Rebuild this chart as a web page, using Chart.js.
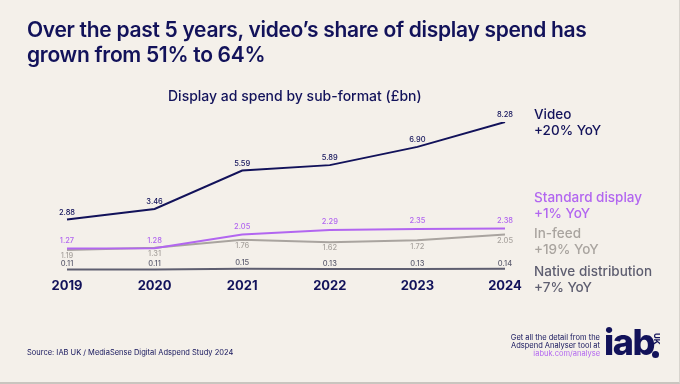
<!DOCTYPE html>
<html>
<head>
<meta charset="utf-8">
<script src="https://cdn.jsdelivr.net/npm/chart.js@4"></script>
<style>
  html, body { margin: 0; padding: 0; }
  body {
    width: 680px; height: 384px; overflow: hidden; position: relative;
    background: #f4f0ea; font-family: "Inter", "Lato", sans-serif; color: #12125a;
  }
  .frame { position: absolute; left: 0; top: 0; width: 679px; height: 382px;
    border-right: 1px solid #d8d4ce; border-bottom: 2px solid #c9c5bf; }
  #wrap { position: absolute; left: 0; top: 0; width: 680px; height: 384px; }
  .title { position: absolute; left: 27px; top: 17px; font-size: 21px; font-weight: 600;
    line-height: 25px; letter-spacing: -0.3px; }
  .sub { position: absolute; left: 168px; top: 87px; font-size: 14px; font-weight: 500; }
  .lab { position: absolute; left: 534px; font-size: 13.5px; font-weight: 500; line-height: 15.5px; }
  .src { position: absolute; left: 27px; top: 348px; font-size: 7.5px; }
  .cta { position: absolute; right: 80px; top: 334px; font-size: 7.5px; line-height: 8px; text-align: right; }
  .logo { position: absolute; left: 604px; top: 324px; font-size: 36px; font-weight: 800;
    letter-spacing: -1.5px; line-height: 36px; }
  .uk { position: absolute; left: 661px; top: 333px; font-size: 8px; font-weight: 800; line-height: 9px;
    transform: rotate(90deg); transform-origin: left top; }
  .dot { position: absolute; left: 652px; top: 351px; width: 7px; height: 7px; border-radius: 50%; background: #12125a; }
</style>
</head>
<body>
<div class="frame"></div>
<div id="wrap"><canvas id="chart" width="680" height="384"></canvas></div>
<div class="title">Over the past 5 years, video’s share of display spend has<br>grown from 51% to 64%</div>
<div class="sub">Display ad spend by sub-format (£bn)</div>
<div class="lab" style="top:107px;color:#12125a">Video<br>+20% YoY</div>
<div class="lab" style="top:190px;color:#b266f0">Standard display<br>+1% YoY</div>
<div class="lab" style="top:226px;color:#a9a49f">In-feed<br>+19% YoY</div>
<div class="lab" style="top:264px;color:#5e5e70">Native distribution<br>+7% YoY</div>
<div class="src">Source: IAB UK / MediaSense Digital Adspend Study 2024</div>
<div class="cta">Get all the detail from the<br>Adspend Analyser tool at<br><span style="color:#b266f0">iabuk.com/analyse</span></div>
<div class="logo">iab</div>
<div class="uk">UK</div>
<div class="dot"></div>
<script>
const years = ["2019", "2020", "2021", "2022", "2023", "2024"];
const video = [2.88, 3.46, 5.59, 5.89, 6.90, 8.28];
const standardDisplay = [1.27, 1.28, 2.05, 2.29, 2.35, 2.38];
const inFeed = [1.19, 1.31, 1.76, 1.62, 1.72, 2.05];
const nativeDist = [0.11, 0.11, 0.15, 0.13, 0.13, 0.14];

// value labels next to each point (above or below)
const pointLabels = {
  id: "pointLabels",
  afterDatasetsDraw(chart) {
    const ctx = chart.ctx;
    ctx.save();
    ctx.font = "500 7.5px Inter, sans-serif";
    ctx.textAlign = "center";
    ctx.textBaseline = "middle";
    chart.data.datasets.forEach((ds, i) => {
      const meta = chart.getDatasetMeta(i);
      ctx.fillStyle = ds.borderColor;
      meta.data.forEach((pt, j) => {
        ctx.fillText(ds.data[j].toFixed(2), pt.x, pt.y + ds.labelOffset);
      });
    });
    ctx.restore();
  },
};

const data = {
  labels: years,
  datasets: [
    { label: "Video", data: video, borderColor: "#12125a", borderWidth: 2, labelOffset: -7 },
    { label: "Standard display", data: standardDisplay, borderColor: "#b266f0", borderWidth: 2, labelOffset: -8 },
    { label: "In-feed", data: inFeed, borderColor: "#a9a49f", borderWidth: 2, labelOffset: 6 },
    { label: "Native distribution", data: nativeDist, borderColor: "#5e5e70", borderWidth: 2, labelOffset: -5.5 },
  ],
};

new Chart(document.getElementById("chart"), {
  type: "line",
  data: data,
  options: {
    responsive: false,
    animation: false,
    layout: { padding: { left: 67, right: 175, top: 122, bottom: 83 } },
    elements: { point: { radius: 0 }, line: { tension: 0 } },
    plugins: { legend: { display: false }, tooltip: { enabled: false } },
    scales: {
      x: {
        offset: false,
        grid: { display: false, drawTicks: false },
        border: { display: false },
        ticks: { color: "#12125a", padding: 7, font: { family: "Inter", size: 13, weight: "bold" } },
      },
      y: { display: false, min: 0, max: 8.28 },
    },
  },
  plugins: [pointLabels],
});
</script>
</body>
</html>
